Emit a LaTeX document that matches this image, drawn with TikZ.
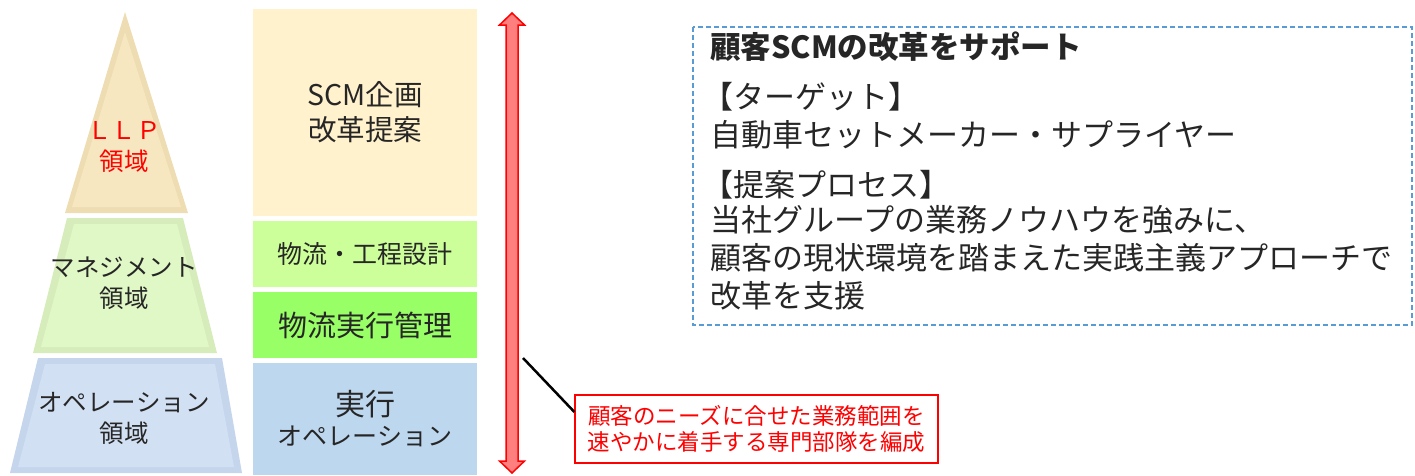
\documentclass[tikz,border=0pt]{standalone}
\usepackage{fontspec}
\setmainfont{Noto Sans CJK JP}
\definecolor{tanO}{HTML}{EEDDB2}
\definecolor{tanI}{HTML}{F7E7C0}
\definecolor{grnO}{HTML}{D6EDBB}
\definecolor{grnI}{HTML}{E0F7C6}
\definecolor{bluO}{HTML}{C4D5EC}
\definecolor{bluI}{HTML}{D2E0F4}
\definecolor{scmC}{HTML}{FFF2CC}
\definecolor{lgC}{HTML}{CCFF99}
\definecolor{mgC}{HTML}{99FF66}
\definecolor{opC}{HTML}{BDD7EE}
\definecolor{arrF}{HTML}{FF7F7F}
\definecolor{dashB}{HTML}{5B9BD5}
\definecolor{txt}{HTML}{262626}
\tikzset{
  colbox/.style={inner sep=0pt, minimum width=224pt, align=center, text=txt},
  pyrtext/.style={align=center, text=txt, font=\fontsize{24.5}{31}\selectfont},
  bodyline/.style={anchor=west, inner sep=0pt, text=txt, font=\fontsize{31}{36}\selectfont},
}
\begin{document}
\begin{tikzpicture}[x=1pt,y=-1pt]
\useasboundingbox (0,0) rectangle (1415,475);
% pyramid
\fill[tanO] (125,12) -- (188,213) -- (65,213) -- cycle;
\fill[tanI] (125,32) -- (181,207) -- (72,207) -- cycle;
\fill[grnO] (67,218) -- (183,218) -- (217,353) -- (33,353) -- cycle;
\fill[grnI] (74,224) -- (177,224) -- (209,347) -- (41,347) -- cycle;
\fill[bluO] (38,358) -- (222,358) -- (242,473) -- (10,473) -- cycle;
\fill[bluI] (45,364) -- (215,364) -- (234,467) -- (18,467) -- cycle;
\node[pyrtext, text=red] (llp) at (124,147) {ＬＬＰ\\領域};
\node[pyrtext] (mgmt) at (124,283) {マネジメント\\領域};
\node[pyrtext] (ops) at (124,418) {オペレーション\\領域};
% middle column
\node[colbox, fill=scmC, minimum height=207pt, font=\fontsize{28.5}{35}\selectfont] (scm) at (365,112.5) {SCM企画\\改革提案};
\node[colbox, fill=lgC, minimum height=66pt, font=\fontsize{25}{28}\selectfont] (design) at (365,254) {物流・工程設計};
\node[colbox, fill=mgC, minimum height=66pt, font=\fontsize{29}{32}\selectfont] (mgmtbox) at (365,325) {物流実行管理};
\node[colbox, fill=opC, minimum height=112pt, font=\fontsize{30}{32}\selectfont] (exec) at (365,419) {実行\\[-2pt]{\fontsize{25}{28}\selectfont オペレーション}};
% double arrow
\draw[red, line width=1.5pt, fill=arrF, line join=miter]
  (512,13) -- (524.5,25) -- (518,25) -- (518,461) -- (524.5,461) -- (512,473)
  -- (499.5,461) -- (506,461) -- (506,25) -- (499.5,25) -- cycle;
% callout
\node[draw=red, line width=1.2pt, fill=white, text=red, inner sep=0pt,
      minimum width=363pt, minimum height=68pt, align=center,
      font=\fontsize{22.5}{26}\selectfont] (callout) at (756.5,429)
      {顧客のニーズに合せた業務範囲を\\速やかに着手する専門部隊を編成};
\coordinate (c1) at (523,358);
\draw[black, line width=2.5pt] (c1) -- ([yshift=17pt]callout.west);
% dashed box
\draw[dashB, line width=1.5pt, dash pattern=on 5pt off 3pt] (693,27) rectangle (1412,325);
\node[bodyline, font=\fontsize{30.5}{36}\selectfont\bfseries] (title) at (710,47) {顧客SCMの改革をサポート};
\node[bodyline] (l1) at (702,97) {【ターゲット】};
\node[bodyline] (l2) at (710,135) {自動車セットメーカー・サプライヤー};
\node[bodyline] (l3) at (702,185) {【提案プロセス】};
\node[bodyline] (l4) at (710,220) {当社グループの業務ノウハウを強みに、};
\node[bodyline] (l5) at (710,258) {顧客の現状環境を踏まえた実践主義アプローチで};
\node[bodyline] (l6) at (710,296) {改革を支援};
\end{tikzpicture}
\end{document}
